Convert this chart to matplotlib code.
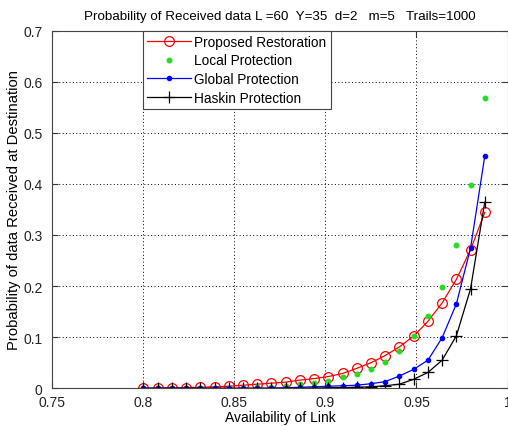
import matplotlib
matplotlib.use("Agg")
import matplotlib.pyplot as plt

availability = [0.8, 0.8078, 0.8156, 0.8234, 0.8313, 0.8391, 0.8469, 0.8547,
                0.8625, 0.8703, 0.8781, 0.8859, 0.8938, 0.9016, 0.9094, 0.9172,
                0.925, 0.9328, 0.9406, 0.9484, 0.9563, 0.9641, 0.9719, 0.9797,
                0.9875]

proposed = [0.0, 0.0005, 0.001, 0.0015, 0.002, 0.003, 0.004, 0.006, 0.008,
            0.010, 0.012, 0.016, 0.019, 0.023, 0.029, 0.039, 0.050, 0.064,
            0.081, 0.102, 0.131, 0.167, 0.213, 0.271, 0.344]
local = [0.0, 0.0, 0.0, 0.0, 0.0, 0.0005, 0.001, 0.0015, 0.002, 0.003, 0.005,
         0.008, 0.011, 0.015, 0.022, 0.028, 0.038, 0.052, 0.073, 0.1025,
         0.141, 0.199, 0.281, 0.397, 0.567]
global_p = [0.0, 0.0, 0.0, 0.0, 0.0, 0.0, 0.0, 0.0, 0.0, 0.0005, 0.001,
            0.002, 0.003, 0.004, 0.005, 0.006, 0.009, 0.013, 0.024, 0.037,
            0.055, 0.099, 0.165, 0.274, 0.454]
haskin = [0.0, 0.0, 0.0, 0.0, 0.0, 0.0, 0.0, 0.0, 0.0, 0.0, 0.0, 0.0, 0.0005,
          0.001, 0.0015, 0.002, 0.003, 0.005, 0.008, 0.0175, 0.031, 0.055,
          0.1025, 0.1945, 0.364]

labels = ["Proposed Restoration", "Local Protection", "Global Protection",
          "Haskin Protection"]
xticks = [0.75, 0.8, 0.85, 0.9, 0.95, 1.0]
xticklabels = ["0.75", "0.8", "0.85", "0.9", "0.95", "1"]
yticks = [0, 0.1, 0.2, 0.3, 0.4, 0.5, 0.6, 0.7]
yticklabels = ["0", "0.1", "0.2", "0.3", "0.4", "0.5", "0.6", "0.7"]

plt.rcParams['font.family'] = ['Liberation Sans', 'DejaVu Sans']

fig = plt.figure(figsize=(5.08, 4.27), dpi=100)
ax = fig.add_axes([52.3 / 508, (427 - 389.3) / 427, (507.5 - 52.3) / 508,
                   (389.3 - 31.5) / 427])

ax.plot(availability, proposed, color='red', marker='o', markersize=7,
        markerfacecolor='none', markeredgewidth=0.9, linewidth=0.9,
        label=labels[0])
ax.plot(availability, local, color='#22dd22', marker='.', markersize=6.5,
        linestyle='none', label=labels[1])
ax.plot(availability, global_p, color='blue', marker='.', markersize=6,
        linewidth=0.9, label=labels[2])
ax.plot(availability, haskin, color='black', marker='+', markersize=9,
        markeredgewidth=0.9, linewidth=0.9, label=labels[3])

ax.set_xlim(0.75, 1.0)
ax.set_ylim(0, 0.7)
ax.set_xticks(xticks)
ax.set_xticklabels(xticklabels)
ax.set_yticks(yticks)
ax.set_yticklabels(yticklabels)
ax.tick_params(direction='in', top=True, right=True, labelsize=10,
               length=4, width=0.8, colors='#333333', labelcolor='#222222')
ax.tick_params(axis='x', pad=5)
ax.tick_params(axis='y', pad=7)
ax.grid(True, linestyle=(0, (1, 2.5)), color='black', linewidth=0.7)
for s in ax.spines.values():
    s.set_color('#444444')
    s.set_linewidth(0.8)

ax.set_xlabel("Availability of Link", fontsize=10)
ax.xaxis.set_label_coords(0.5, -0.062)
ax.set_ylabel("Probability of data Received at Destination", fontsize=10.6)
ax.yaxis.set_label_coords(-0.068, 0.5)
ax.set_title("Probability of Received data L =60  Y=35  d=2   m=5   Trails=1000",
             fontsize=9.6, pad=8)

leg = ax.legend(loc='upper left', bbox_to_anchor=(0.199, 1.0),
                borderaxespad=0, fontsize=9.8, fancybox=False, framealpha=1,
                edgecolor='#444444', handlelength=3.2, labelspacing=0.34,
                borderpad=0.32, handletextpad=0.25)
leg.get_frame().set_linewidth(0.8)

fig.savefig("out.png", dpi=100)
